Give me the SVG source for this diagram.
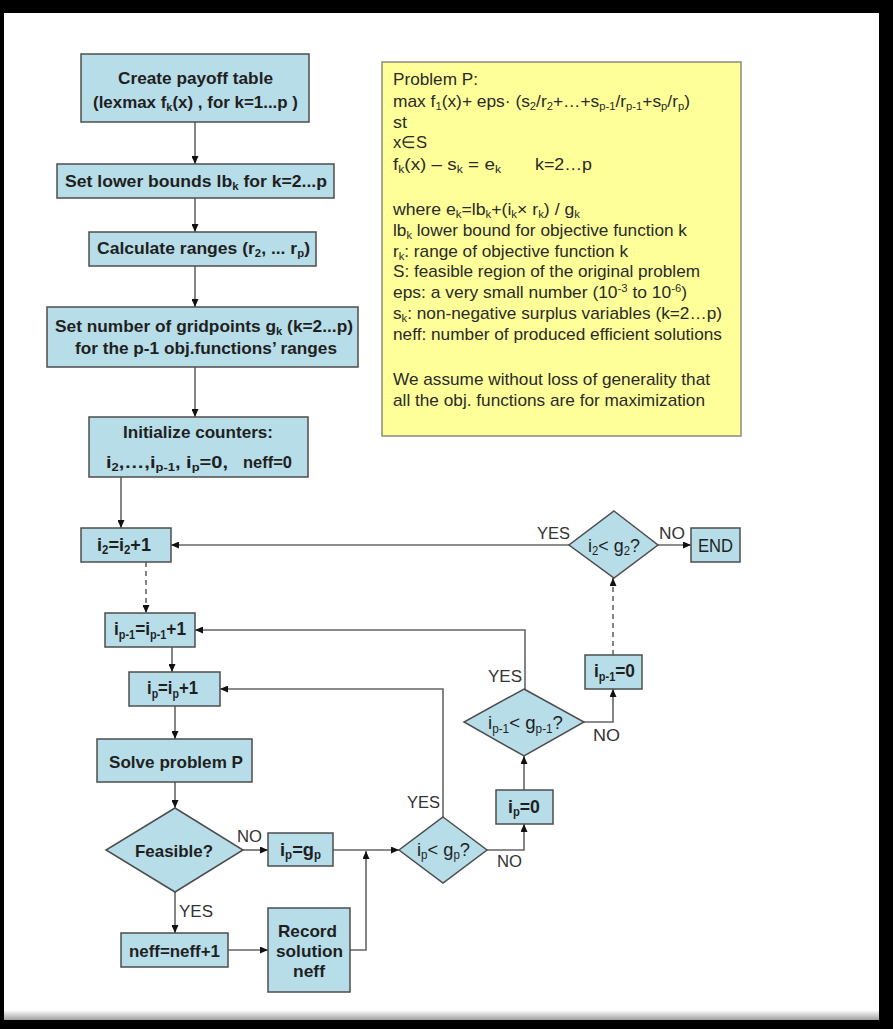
<svg xmlns="http://www.w3.org/2000/svg" width="893" height="1029" viewBox="0 0 893 1029">
<defs>
<style>
.box{fill:#b7dde8;stroke:#4d4d4d;stroke-width:1.5}
.b{font-family:"Liberation Sans",Arial,sans-serif;font-weight:bold;font-size:17px;fill:#1f1f1f}
.bl{font-family:"Liberation Sans",Arial,sans-serif;font-weight:bold;font-size:19px;fill:#1f1f1f}
.d{font-family:"Liberation Sans",Arial,sans-serif;font-size:19px;fill:#1f1f1f}
.lbl{font-family:"Liberation Sans",Arial,sans-serif;font-size:16px;fill:#333}
.y{font-family:"Liberation Sans",Arial,sans-serif;font-size:17px;fill:#2a2a2a}
.s{font-size:11px}
.s2{font-size:12px}
.c{fill:none;stroke:#666;stroke-width:1.6}
.dash{stroke-dasharray:5,4}
</style>
<marker id="ah" viewBox="0 0 8 7" refX="8" refY="3.5" markerWidth="8" markerHeight="7" markerUnits="userSpaceOnUse" orient="auto">
<path d="M0,0 L8,3.5 L0,7 z" fill="#111"/>
</marker>
<linearGradient id="sh" x1="0" y1="0" x2="0" y2="1">
<stop offset="0" stop-color="#ffffff"/>
<stop offset="1" stop-color="#a0a0a0"/>
</linearGradient>
</defs>
<rect x="0" y="0" width="893" height="1029" fill="#000"/>
<rect x="4" y="13" width="875" height="1007" fill="#fff"/>
<rect x="4" y="1010" width="875" height="10" fill="url(#sh)"/>

<g id="connectors">
<line class="c" x1="195" y1="122" x2="195" y2="164" marker-end="url(#ah)"/>
<line class="c" x1="195" y1="198" x2="195" y2="232" marker-end="url(#ah)"/>
<line class="c" x1="195" y1="266" x2="195" y2="307" marker-end="url(#ah)"/>
<line class="c" x1="195" y1="367" x2="195" y2="417" marker-end="url(#ah)"/>
<line class="c" x1="121" y1="477" x2="121" y2="528" marker-end="url(#ah)"/>
<line class="c dash" x1="146" y1="562" x2="146" y2="613" marker-end="url(#ah)"/>
<line class="c" x1="172" y1="647" x2="172" y2="672" marker-end="url(#ah)"/>
<line class="c" x1="175" y1="706" x2="175" y2="739" marker-end="url(#ah)"/>
<line class="c" x1="175" y1="782" x2="175" y2="808" marker-end="url(#ah)"/>
<line class="c" x1="175" y1="892" x2="175" y2="933" marker-end="url(#ah)"/>
<line class="c" x1="243" y1="850" x2="268" y2="850" marker-end="url(#ah)"/>
<line class="c" x1="228" y1="950" x2="268" y2="950" marker-end="url(#ah)"/>
<line class="c" x1="333" y1="850" x2="399" y2="850" marker-end="url(#ah)"/>
<polyline class="c" points="350,950 366,950 366,851" marker-end="url(#ah)"/>
<polyline class="c" points="443,817 443,689 220,689" marker-end="url(#ah)"/>
<polyline class="c" points="487,850 524,850 524,824" marker-end="url(#ah)"/>
<line class="c" x1="524" y1="790" x2="524" y2="756" marker-end="url(#ah)"/>
<polyline class="c" points="525,689 525,630 195,630" marker-end="url(#ah)"/>
<polyline class="c" points="584,722 613,722 613,689" marker-end="url(#ah)"/>
<line class="c dash" x1="613" y1="655" x2="613" y2="578" marker-end="url(#ah)"/>
<line class="c" x1="569" y1="545" x2="171" y2="545" marker-end="url(#ah)"/>
<line class="c" x1="658" y1="545" x2="691" y2="545" marker-end="url(#ah)"/>
</g>

<g id="payoff">
<rect class="box" x="81" y="54" width="228" height="68"/>
<text class="b" x="118" y="84" textLength="155" lengthAdjust="spacingAndGlyphs">Create payoff table</text>
<text class="b" x="93" y="108" textLength="205" lengthAdjust="spacingAndGlyphs">(lexmax f<tspan class="s" dy="3">k</tspan><tspan dy="-3">(x) , for k=1...p )</tspan></text>
</g>

<g id="lowerbounds">
<rect class="box" x="57" y="164" width="277" height="34"/>
<text class="b" x="65" y="187" textLength="262" lengthAdjust="spacingAndGlyphs">Set lower bounds lb<tspan class="s" dy="3">k</tspan><tspan dy="-3"> for k=2...p</tspan></text>
</g>

<g id="ranges">
<rect class="box" x="89" y="232" width="227" height="34"/>
<text class="b" x="97" y="254" textLength="213" lengthAdjust="spacingAndGlyphs">Calculate ranges (r<tspan class="s" dy="3">2</tspan><tspan dy="-3">, ... r</tspan><tspan class="s" dy="3">p</tspan><tspan dy="-3">)</tspan></text>
</g>

<g id="gridpoints">
<rect class="box" x="47" y="307" width="311" height="60"/>
<text class="b" x="55" y="332" textLength="298" lengthAdjust="spacingAndGlyphs">Set number of gridpoints g<tspan class="s" dy="3">k</tspan><tspan dy="-3"> (k=2...p)</tspan></text>
<text class="b" x="75" y="354" textLength="262" lengthAdjust="spacingAndGlyphs">for the p-1 obj.functions’ ranges</text>
</g>

<g id="initialize">
<rect class="box" x="89" y="417" width="219" height="60"/>
<text class="b" x="123" y="438" textLength="150" lengthAdjust="spacingAndGlyphs">Initialize counters:</text>
<text class="b" x="106" y="468" textLength="122" lengthAdjust="spacingAndGlyphs">i<tspan class="s" dy="3">2</tspan><tspan dy="-3">,…,i</tspan><tspan class="s" dy="3">p-1</tspan><tspan dy="-3">, i</tspan><tspan class="s" dy="3">p</tspan><tspan dy="-3">=0,</tspan></text>
<text class="b" x="243" y="468" textLength="49" lengthAdjust="spacingAndGlyphs">neff=0</text>
</g>

<g id="i2inc">
<rect class="box" x="81" y="528" width="90" height="34"/>
<text class="bl" x="97" y="551" textLength="54" lengthAdjust="spacingAndGlyphs">i<tspan class="s2" dy="3">2</tspan><tspan dy="-3">=i</tspan><tspan class="s2" dy="3">2</tspan><tspan dy="-3">+1</tspan></text>
</g>

<g id="ip1inc">
<rect class="box" x="105" y="613" width="90" height="34"/>
<text class="bl" x="114" y="635" textLength="72" lengthAdjust="spacingAndGlyphs">i<tspan class="s2" dy="4">p-1</tspan><tspan dy="-4">=i</tspan><tspan class="s2" dy="4">p-1</tspan><tspan dy="-4">+1</tspan></text>
</g>

<g id="ipinc">
<rect class="box" x="129" y="672" width="91" height="34"/>
<text class="bl" x="147" y="694" textLength="51" lengthAdjust="spacingAndGlyphs">i<tspan class="s2" dy="4">p</tspan><tspan dy="-4">=i</tspan><tspan class="s2" dy="4">p</tspan><tspan dy="-4">+1</tspan></text>
</g>

<g id="solve">
<rect class="box" x="97" y="739" width="155" height="43"/>
<text class="b" x="109" y="768" textLength="134" lengthAdjust="spacingAndGlyphs">Solve problem P</text>
</g>

<g id="feasible">
<polygon class="box" points="175,808 243,850 175,892 106,850"/>
<text class="b" x="135" y="857" textLength="78" lengthAdjust="spacingAndGlyphs">Feasible?</text>
</g>

<g id="ipgp">
<rect class="box" x="268" y="833" width="65" height="33"/>
<text class="bl" x="280" y="856" textLength="41" lengthAdjust="spacingAndGlyphs">i<tspan class="s2" dy="3">p</tspan><tspan dy="-3">=g</tspan><tspan class="s2" dy="3">p</tspan></text>
</g>

<g id="neffinc">
<rect class="box" x="121" y="933" width="107" height="34"/>
<text class="b" x="129" y="957" textLength="91" lengthAdjust="spacingAndGlyphs">neff=neff+1</text>
</g>

<g id="record">
<rect class="box" x="268" y="908" width="82" height="84"/>
<text class="b" x="278" y="937" textLength="59" lengthAdjust="spacingAndGlyphs">Record</text>
<text class="b" x="276" y="957" textLength="67" lengthAdjust="spacingAndGlyphs">solution</text>
<text class="b" x="293" y="977" textLength="32" lengthAdjust="spacingAndGlyphs">neff</text>
</g>

<g id="iplessgp">
<polygon class="box" points="443,817 487,850 443,883 399,850"/>
<text class="d" x="417" y="856" textLength="53" lengthAdjust="spacingAndGlyphs">i<tspan class="s2" dy="3">p</tspan><tspan dy="-3">&lt; g</tspan><tspan class="s2" dy="3">p</tspan><tspan dy="-3">?</tspan></text>
</g>

<g id="ipzero">
<rect class="box" x="496" y="790" width="57" height="34"/>
<text class="bl" x="508" y="813" textLength="32" lengthAdjust="spacingAndGlyphs">i<tspan class="s2" dy="3">p</tspan><tspan dy="-3">=0</tspan></text>
</g>

<g id="ip1lessgp1">
<polygon class="box" points="524,689 584,722 524,756 464,722"/>
<text class="d" x="488" y="729" textLength="75" lengthAdjust="spacingAndGlyphs">i<tspan class="s2" dy="4">p-1</tspan><tspan dy="-4">&lt; g</tspan><tspan class="s2" dy="4">p-1</tspan><tspan dy="-4">?</tspan></text>
</g>

<g id="ip1zero">
<rect class="box" x="585" y="655" width="57" height="34"/>
<text class="bl" x="594" y="677" textLength="41" lengthAdjust="spacingAndGlyphs">i<tspan class="s2" dy="4">p-1</tspan><tspan dy="-4">=0</tspan></text>
</g>

<g id="i2lessg2">
<polygon class="box" points="614,511 658,545 614,578 569,545"/>
<text class="d" x="588" y="552" textLength="52" lengthAdjust="spacingAndGlyphs">i<tspan class="s2" dy="3">2</tspan><tspan dy="-3">&lt; g</tspan><tspan class="s2" dy="3">2</tspan><tspan dy="-3">?</tspan></text>
</g>

<g id="end">
<rect class="box" x="691" y="528" width="49" height="34"/>
<text class="d" x="698" y="552" textLength="35" lengthAdjust="spacingAndGlyphs">END</text>
</g>

<g id="labels">
<text class="lbl" x="537" y="539" textLength="33" lengthAdjust="spacingAndGlyphs">YES</text>
<text class="lbl" x="659" y="539" textLength="26" lengthAdjust="spacingAndGlyphs">NO</text>
<text class="lbl" x="488" y="682" textLength="34" lengthAdjust="spacingAndGlyphs">YES</text>
<text class="lbl" x="593" y="741" textLength="27" lengthAdjust="spacingAndGlyphs">NO</text>
<text class="lbl" x="407" y="808" textLength="33" lengthAdjust="spacingAndGlyphs">YES</text>
<text class="lbl" x="497" y="867" textLength="25" lengthAdjust="spacingAndGlyphs">NO</text>
<text class="lbl" x="237" y="842" textLength="25" lengthAdjust="spacingAndGlyphs">NO</text>
<text class="lbl" x="179" y="917" textLength="34" lengthAdjust="spacingAndGlyphs">YES</text>
</g>

<g id="problemP">
<rect x="382" y="62" width="359" height="374" fill="#ffff99" stroke="#8a8a7a" stroke-width="1.5"/>
<text class="y" x="393" y="85" textLength="85" lengthAdjust="spacingAndGlyphs">Problem P:</text>
<text class="y" x="393" y="107" textLength="297" lengthAdjust="spacingAndGlyphs">max f<tspan class="s" dy="3">1</tspan><tspan dy="-3">(x)+ eps· (s</tspan><tspan class="s" dy="3">2</tspan><tspan dy="-3">/r</tspan><tspan class="s" dy="3">2</tspan><tspan dy="-3">+…+s</tspan><tspan class="s" dy="3">p-1</tspan><tspan dy="-3">/r</tspan><tspan class="s" dy="3">p-1</tspan><tspan dy="-3">+s</tspan><tspan class="s" dy="3">p</tspan><tspan dy="-3">/r</tspan><tspan class="s" dy="3">p</tspan><tspan dy="-3">)</tspan></text>
<text class="y" x="393" y="128" textLength="14" lengthAdjust="spacingAndGlyphs">st</text>
<text class="y" x="393" y="148" textLength="34" lengthAdjust="spacingAndGlyphs">x∈S</text>
<text class="y" x="393" y="170" textLength="108" lengthAdjust="spacingAndGlyphs">f<tspan class="s" dy="3">k</tspan><tspan dy="-3">(x) – s</tspan><tspan class="s" dy="3">k</tspan><tspan dy="-3"> = e</tspan><tspan class="s" dy="3">k</tspan></text>
<text class="y" x="535" y="170" textLength="57" lengthAdjust="spacingAndGlyphs">k=2…p</text>
<text class="y" x="393" y="215" textLength="187" lengthAdjust="spacingAndGlyphs">where e<tspan class="s" dy="3">k</tspan><tspan dy="-3">=lb</tspan><tspan class="s" dy="3">k</tspan><tspan dy="-3">+(i</tspan><tspan class="s" dy="3">k</tspan><tspan dy="-3">× r</tspan><tspan class="s" dy="3">k</tspan><tspan dy="-3">) / g</tspan><tspan class="s" dy="3">k</tspan></text>
<text class="y" x="393" y="236" textLength="294" lengthAdjust="spacingAndGlyphs">lb<tspan class="s" dy="3">k</tspan><tspan dy="-3"> lower bound for objective function k</tspan></text>
<text class="y" x="393" y="257" textLength="235" lengthAdjust="spacingAndGlyphs">r<tspan class="s" dy="3">k</tspan><tspan dy="-3">: range of objective function k</tspan></text>
<text class="y" x="393" y="277" textLength="307" lengthAdjust="spacingAndGlyphs">S: feasible region of the original problem</text>
<text class="y" x="393" y="298" textLength="294" lengthAdjust="spacingAndGlyphs">eps: a very small number (10<tspan class="s" dy="-6">-3</tspan><tspan dy="6"> to 10</tspan><tspan class="s" dy="-6">-6</tspan><tspan dy="6">)</tspan></text>
<text class="y" x="393" y="319" textLength="329" lengthAdjust="spacingAndGlyphs">s<tspan class="s" dy="3">k</tspan><tspan dy="-3">: non-negative surplus variables (k=2…p)</tspan></text>
<text class="y" x="393" y="340" textLength="329" lengthAdjust="spacingAndGlyphs">neff: number of produced efficient solutions</text>
<text class="y" x="393" y="385" textLength="317" lengthAdjust="spacingAndGlyphs">We assume without loss of generality that</text>
<text class="y" x="393" y="406" textLength="312" lengthAdjust="spacingAndGlyphs">all the obj. functions are for maximization</text>
</g>
</svg>
